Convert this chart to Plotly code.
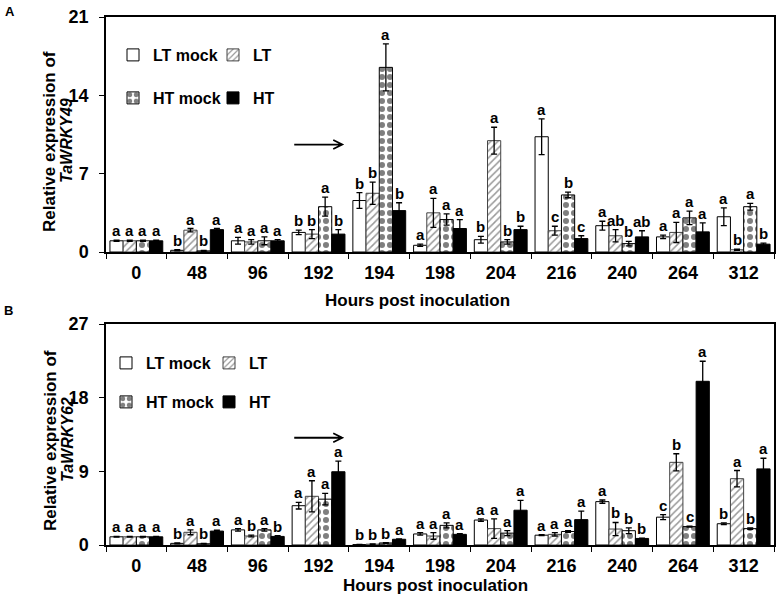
import plotly.graph_objects as go

hours = ["0", "48", "96", "192", "194", "198", "204", "216", "240", "264", "312"]
series_names = ["LT mock", "LT", "HT mock", "HT"]

# Panel A: TaWRKY49
a_lt_mock = [1.0, 0.15, 1.0, 1.75, 4.6, 0.6, 1.1, 10.3, 2.35, 1.35, 3.15]
a_lt = [1.0, 1.95, 0.9, 1.6, 5.25, 3.5, 9.95, 1.9, 1.45, 1.75, 0.2]
a_ht_mock = [1.0, 0.1, 1.0, 4.05, 16.5, 2.9, 0.9, 5.1, 0.75, 3.05, 4.05]
a_ht = [1.0, 2.0, 1.0, 1.6, 3.7, 2.1, 2.0, 1.2, 1.35, 1.8, 0.7]
a_lt_mock_err = [0.05, 0.05, 0.3, 0.2, 0.7, 0.1, 0.3, 1.6, 0.4, 0.15, 0.8]
a_lt_err = [0.05, 0.15, 0.2, 0.4, 1.0, 1.3, 1.2, 0.4, 0.55, 0.9, 0.05]
a_ht_mock_err = [0.05, 0.05, 0.35, 0.85, 2.1, 0.5, 0.2, 0.25, 0.2, 0.6, 0.3]
a_ht_err = [0.05, 0.1, 0.1, 0.4, 0.7, 0.8, 0.3, 0.25, 0.55, 0.8, 0.1]
a_lt_mock_sig = ["a", "b", "a", "b", "b", "a", "b", "a", "a", "a", "a"]
a_lt_sig = ["a", "a", "a", "b", "b", "a", "a", "c", "ab", "a", "b"]
a_ht_mock_sig = ["a", "b", "a", "a", "a", "a", "b", "b", "b", "a", "a"]
a_ht_sig = ["a", "a", "a", "b", "b", "a", "b", "c", "ab", "a", "b"]

# Panel B: TaWRKY62
b_lt_mock = [1.0, 0.2, 1.85, 4.8, 0.05, 1.35, 3.05, 1.2, 5.3, 3.4, 2.6]
b_lt = [1.0, 1.55, 1.1, 5.95, 0.1, 1.1, 2.0, 1.3, 1.95, 10.1, 8.1]
b_ht_mock = [1.0, 0.15, 1.85, 5.6, 0.25, 2.4, 1.45, 1.65, 1.75, 2.25, 2.0]
b_ht = [1.0, 1.7, 1.05, 8.95, 0.7, 1.3, 4.25, 3.1, 0.8, 20.0, 9.3]
b_lt_mock_err = [0.05, 0.05, 0.15, 0.4, 0.02, 0.15, 0.15, 0.05, 0.2, 0.3, 0.1]
b_lt_err = [0.05, 0.3, 0.1, 1.9, 0.02, 0.4, 1.2, 0.2, 0.8, 1.05, 1.0]
b_ht_mock_err = [0.05, 0.05, 0.15, 0.7, 0.05, 0.3, 0.3, 0.1, 0.35, 0.05, 0.1]
b_ht_err = [0.05, 0.1, 0.1, 1.3, 0.05, 0.1, 1.2, 1.05, 0.05, 2.45, 1.3]
b_lt_mock_sig = ["a", "b", "a", "a", "b", "a", "a", "a", "a", "c", "b"]
b_lt_sig = ["a", "a", "b", "a", "b", "a", "a", "a", "b", "b", "a"]
b_ht_mock_sig = ["a", "b", "a", "a", "b", "a", "a", "a", "b", "c", "b"]
b_ht_sig = ["a", "a", "b", "a", "a", "a", "a", "a", "b", "a", "a"]

FONT = "Liberation Sans, Arial, sans-serif"
BARGAP = 0.13
W, H = 780, 598


def px(x):
    return x / W


def py(y):
    return 1 - y / H


styles = [
    dict(color="white", line=dict(color="black", width=1)),
    dict(color="white", line=dict(color="#444444", width=1),
         pattern=dict(shape="/", fgcolor="#333333", bgcolor="white", size=5, solidity=0.3)),
    dict(color="white", line=dict(color="black", width=1),
         pattern=dict(shape=".", fgcolor="black", bgcolor="white", size=8, solidity=0.45)),
    dict(color="black", line=dict(color="black", width=1)),
]

panels = [
    dict(vals=[a_lt_mock, a_lt, a_ht_mock, a_ht],
         errs=[a_lt_mock_err, a_lt_err, a_ht_mock_err, a_ht_err],
         sigs=[a_lt_mock_sig, a_lt_sig, a_ht_mock_sig, a_ht_sig],
         gene="TaWRKY49", xa="x", ya="y", legends=["legend", "legend2"],
         ytitle_y=141, xtitle=(417, 300)),
    dict(vals=[b_lt_mock, b_lt, b_ht_mock, b_ht],
         errs=[b_lt_mock_err, b_lt_err, b_ht_mock_err, b_ht_err],
         sigs=[b_lt_mock_sig, b_lt_sig, b_ht_mock_sig, b_ht_sig],
         gene="TaWRKY62", xa="x2", ya="y2", legends=["legend3", "legend4"],
         ytitle_y=440, xtitle=(435, 585)),
]

fig = go.Figure()
annotations = []
bw = (1 - BARGAP) / 4
title_font = dict(family=FONT, size=17, color="black")
for p in panels:
    for k in range(4):
        fig.add_trace(go.Bar(
            x=hours, y=p["vals"][k], name=series_names[k],
            marker=styles[k],
            error_y=dict(type="data", array=p["errs"][k], color="black", thickness=1.3, width=3),
            xaxis=p["xa"], yaxis=p["ya"],
            legend=p["legends"][k // 2],
            showlegend=True,
        ))
        for i in range(len(hours)):
            annotations.append(dict(
                x=i + (k - 1.5) * bw, y=p["vals"][k][i] + p["errs"][k][i],
                xref=p["xa"], yref=p["ya"], text="<b>%s</b>" % p["sigs"][k][i],
                showarrow=False, yanchor="bottom", xanchor="center",
                font=dict(family=FONT, size=15, color="black"), yshift=-1,
            ))
    # axis titles
    annotations.append(dict(x=px(50), y=py(p["ytitle_y"]), xref="paper", yref="paper",
                            xanchor="center", yanchor="middle",
                            text="<b>Relative expression of</b>", textangle=-90,
                            showarrow=False, font=title_font))
    annotations.append(dict(x=px(67), y=py(p["ytitle_y"]), xref="paper", yref="paper",
                            xanchor="center", yanchor="middle",
                            text="<b><i>%s</i></b>" % p["gene"], textangle=-90,
                            showarrow=False, font=dict(title_font, size=16)))
    annotations.append(dict(x=px(p["xtitle"][0]), y=py(p["xtitle"][1]), xref="paper", yref="paper",
                            xanchor="center", yanchor="middle",
                            text="<b>Hours post inoculation</b>",
                            showarrow=False, font=title_font))

# arrows
for xa, ya, yv in [("x", "y", 9.6), ("x2", "y2", 13.1)]:
    fig.add_shape(type="path", xref=xa, yref=ya, xsizemode="pixel", ysizemode="pixel",
                  xanchor=3.39, yanchor=yv,
                  path="M -48 0 L 0 0 M -9 4.5 L 0 0 L -9 -4.5",
                  line=dict(color="black", width=1.8))

annotations.append(dict(x=px(10), y=py(12), xref="paper", yref="paper", text="<b>A</b>",
                        xanchor="center", yanchor="middle",
                        showarrow=False, font=dict(family=FONT, size=13, color="black")))
annotations.append(dict(x=px(8), y=py(310), xref="paper", yref="paper", text="<b>B</b>",
                        xanchor="center", yanchor="middle",
                        showarrow=False, font=dict(family=FONT, size=13, color="black")))

xdom = [px(106), px(774)]
axis_common = dict(showline=True, linecolor="black", linewidth=1.5, mirror=True,
                   showgrid=False, zeroline=False, ticks="outside", tickcolor="black",
                   ticklen=5, tickwidth=1.3, automargin=False,
                   tickfont=dict(family=FONT, size=18, color="black", weight="bold"))
xcommon = dict(axis_common, type="category", tickson="boundaries", ticklabelstandoff=4)
ycommon = dict(axis_common, ticklabelstandoff=7)

leg_common = dict(orientation="h", xanchor="left", yanchor="middle", bgcolor="rgba(0,0,0,0)",
                  font=dict(family=FONT, size=16, color="black", weight="bold"),
                  entrywidthmode="pixels", itemclick=False)

fig.update_layout(
    width=W, height=H, margin=dict(l=0, r=0, t=0, b=0, autoexpand=False),
    paper_bgcolor="white", plot_bgcolor="white",
    barmode="group", bargap=BARGAP, bargroupgap=0,
    showlegend=True,
    xaxis=dict(xcommon, domain=xdom, anchor="y"),
    yaxis=dict(ycommon, domain=[py(252), py(17)], anchor="x",
               range=[0, 21], tickvals=[0, 7, 14, 21]),
    xaxis2=dict(xcommon, domain=xdom, anchor="y2"),
    yaxis2=dict(ycommon, domain=[py(545), py(324)], anchor="x2",
                range=[0, 27], tickvals=[0, 9, 18, 27]),
    legend=dict(leg_common, x=px(113), y=py(55), entrywidth=55),
    legend2=dict(leg_common, x=px(113), y=py(98), entrywidth=55),
    legend3=dict(leg_common, x=px(106), y=py(363), entrywidth=58),
    legend4=dict(leg_common, x=px(106), y=py(402), entrywidth=58),
    annotations=annotations,
)

fig.write_html("out.html", config={"displayModeBar": False},
               post_script="document.body.style.margin='0';document.body.style.padding='0';")
